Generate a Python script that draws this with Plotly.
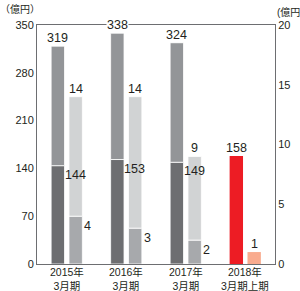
import plotly.graph_objects as go

categories = ["2015年<br>3月期", "2016年<br>3月期", "2017年<br>3月期", "2018年<br>3月期上期"]
# left axis (億円): totals and lower segment
left_total = [319, 338, 324]
left_lower = [144, 153, 149]
# right axis (億円): totals and lower segment
right_total = [14, 14, 9]
right_lower = [4, 3, 2]
# 2018 first half
h1_left = [158]
h1_right = [1]

C_DARK = "#6d6e71"
C_MID = "#939598"
C_LIGHT = "#d1d3d4"
C_LOWR = "#a7a9ac"
C_RED = "#ed1c24"
C_SALMON = "#f9ab8e"
TXT = "#231f20"
FONT = "Liberation Sans, Noto Sans CJK JP, sans-serif"

OFF = 0.15
W = 0.225
n = len(left_total)
xs = list(range(n))
xl = [i - OFF for i in xs]
xr = [i + OFF for i in xs]

fig = go.Figure()
line = dict(color="white", width=0.8)
fig.add_bar(x=xl, y=left_lower, width=W, marker=dict(color=C_DARK, line=line), yaxis="y")
fig.add_bar(x=xl, y=[t - b for t, b in zip(left_total, left_lower)], base=left_lower, width=W,
            marker=dict(color=C_MID, line=line), yaxis="y")
fig.add_bar(x=xr, y=right_lower, width=W, marker=dict(color=C_LOWR, line=line), yaxis="y2")
fig.add_bar(x=xr, y=[t - b for t, b in zip(right_total, right_lower)], base=right_lower, width=W,
            marker=dict(color=C_LIGHT, line=line), yaxis="y2")
fig.add_bar(x=[3 - OFF], y=h1_left, width=W, marker=dict(color=C_RED, line=dict(width=0)), yaxis="y")
fig.add_bar(x=[3 + OFF], y=h1_right, width=W, marker=dict(color=C_SALMON, line=dict(width=0)), yaxis="y2")

ann = []
lf = dict(family=FONT, size=12.5, color=TXT)
for i in xs:
    ann.append(dict(x=xl[i], y=left_total[i], xref="x", yref="y", text=str(left_total[i]),
                    showarrow=False, yanchor="bottom", font=lf, bgcolor="white", borderpad=0))
    ann.append(dict(x=xl[i] + W / 2, y=left_lower[i], xref="x", yref="y", text=str(left_lower[i]),
                    showarrow=False, xanchor="left", yanchor="top", font=lf, borderpad=0, yshift=-1, xshift=-1))
    ann.append(dict(x=xr[i], y=right_total[i], xref="x", yref="y2", text=str(right_total[i]),
                    showarrow=False, yanchor="bottom", font=lf, borderpad=0))
    ann.append(dict(x=xr[i] + W / 2, y=right_lower[i], xref="x", yref="y2", text=str(right_lower[i]),
                    showarrow=False, xanchor="left", yanchor="top", font=lf, borderpad=0, xshift=1, yshift=-2))
ann.append(dict(x=3 - OFF, y=h1_left[0], xref="x", yref="y", text=str(h1_left[0]),
                showarrow=False, yanchor="bottom", font=lf, borderpad=0))
ann.append(dict(x=3 + OFF, y=h1_right[0], xref="x", yref="y2", text=str(h1_right[0]),
                showarrow=False, yanchor="bottom", font=lf, borderpad=0))
cf = dict(family=FONT, size=10.5, color=TXT)
for i, c in enumerate(categories):
    ann.append(dict(x=i, y=0, xref="x", yref="paper", text=c, showarrow=False,
                    yanchor="middle", yshift=-15, font=cf, borderpad=0))
uf = dict(family=FONT, size=10, color=TXT)
ann.append(dict(x=-37 / 238, y=1 + 8 / 239, xref="paper", yref="paper", xanchor="left",
                yanchor="bottom", text="（億円）", showarrow=False, font=uf, xshift=-2))
ann.append(dict(x=1, y=1 + 5 / 239, xref="paper", yref="paper", xanchor="left",
                yanchor="bottom", text="(億円", showarrow=False, font=uf, xshift=0))

fig.update_layout(
    width=300, height=291,
    margin=dict(l=37, r=25, t=25, b=27, autoexpand=False),
    plot_bgcolor="white", paper_bgcolor="white",
    barmode="overlay", showlegend=False,
    font=dict(family=FONT, color=TXT, size=11),
    annotations=ann,
    xaxis=dict(range=[-0.5, 3.5], showticklabels=False,
               showline=True, linecolor="#6d6e71", linewidth=1, mirror=True, automargin=False,
               showgrid=False, zeroline=False, ticks=""),
    yaxis=dict(range=[0, 350], tickvals=[0, 70, 140, 210, 280, 350], showgrid=False, automargin=False,
               showline=True, linecolor="#6d6e71", linewidth=1, zeroline=False, ticks="",
               tickfont=dict(size=11)),
    yaxis2=dict(range=[0, 20], tickvals=[0, 5, 10, 15, 20], overlaying="y", side="right",
                showgrid=False, showline=True, linecolor="#6d6e71", linewidth=1, automargin=False,
                zeroline=False, ticks="", tickfont=dict(size=11)),
)
fig.write_html("out.html", config={"displayModeBar": False},
               post_script="document.body.style.margin='0';document.body.style.overflow='hidden';")
